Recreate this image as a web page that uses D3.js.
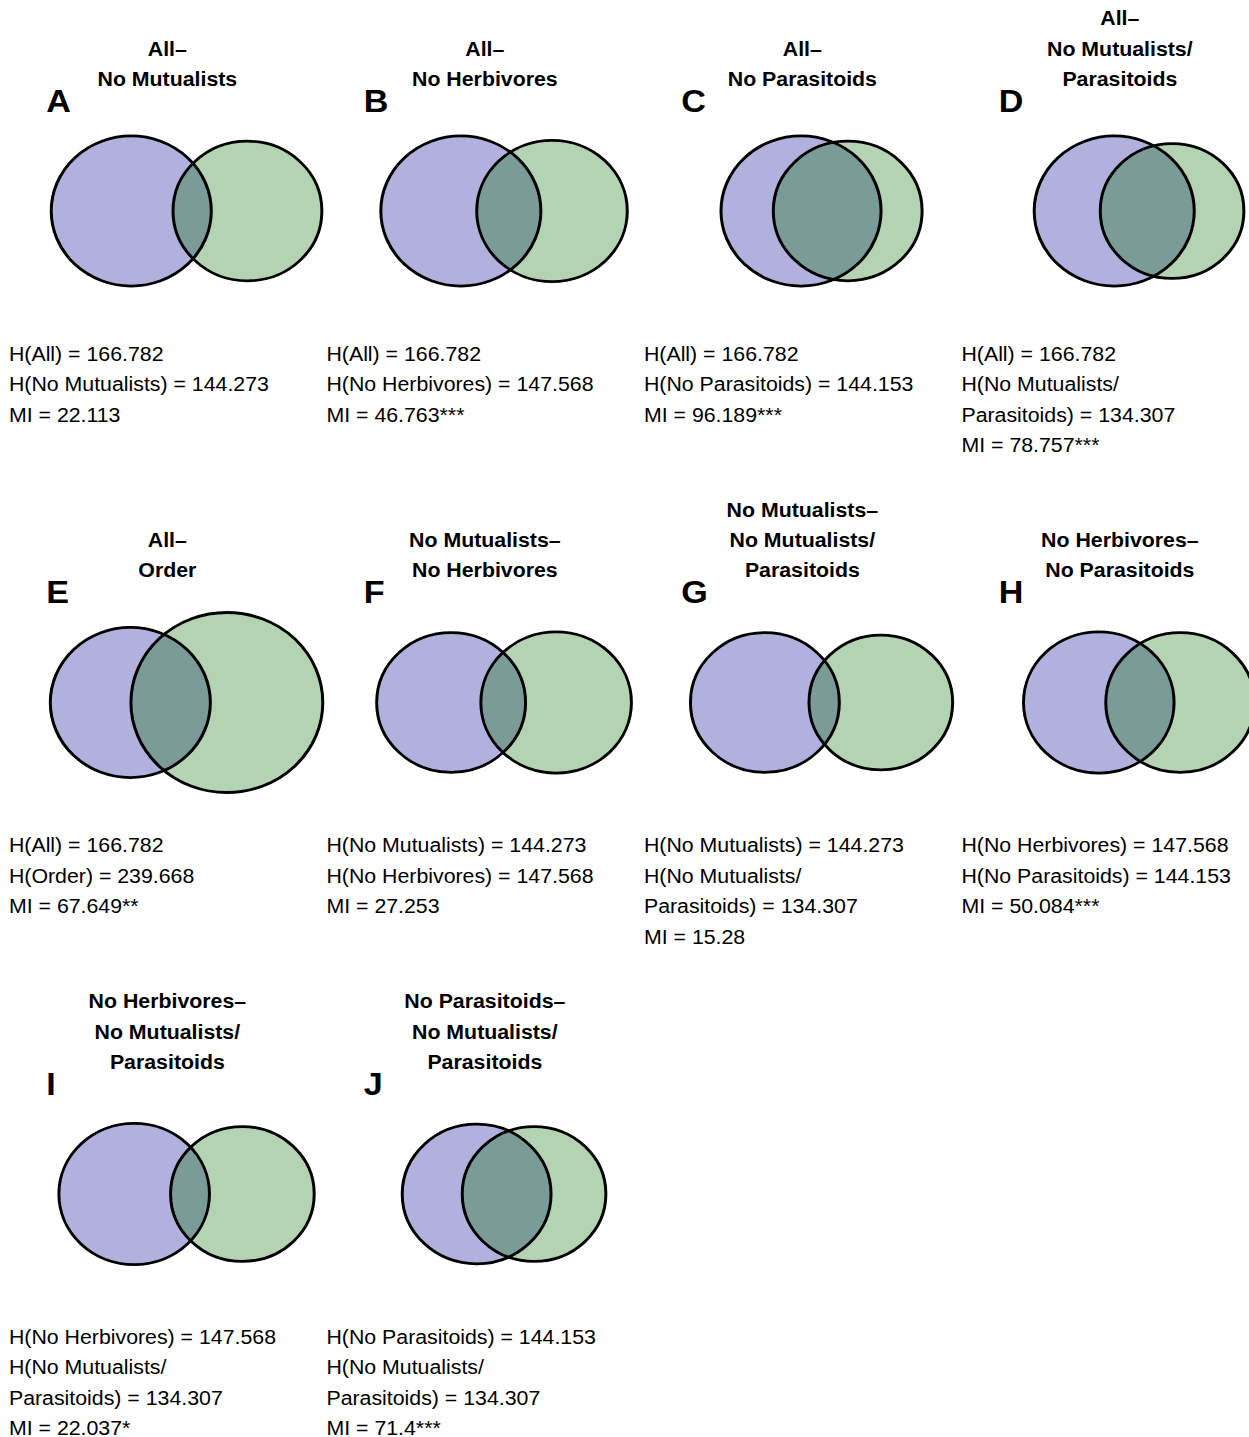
<!DOCTYPE html>
<html>
<head>
<meta charset="utf-8">
<script src="https://cdn.jsdelivr.net/npm/d3@7"></script>
<style>
  body { margin: 0; background: #fff; }
  text { font-family: "Liberation Sans", Arial, Helvetica, sans-serif; fill: #000; }
</style>
</head>
<body>
<div id="chart"></div>
<script>
// dades de cada panell
const letters = ["A", "B", "C", "D", "E", "F", "G", "H", "I", "J"];
const setA = ["All", "All", "All", "All", "All", "No Mutualists", "No Mutualists", "No Herbivores", "No Herbivores", "No Parasitoids"];
const setB = ["No Mutualists", "No Herbivores", "No Parasitoids", "No Mutualists/Parasitoids", "Order", "No Herbivores", "No Mutualists/Parasitoids", "No Parasitoids", "No Mutualists/Parasitoids", "No Mutualists/Parasitoids"];
const entropyA = [166.782, 166.782, 166.782, 166.782, 166.782, 144.273, 144.273, 147.568, 147.568, 144.153];
const entropyB = [144.273, 147.568, 144.153, 134.307, 239.668, 147.568, 134.307, 144.153, 134.307, 134.307];
const mutualInfo = [22.113, 46.763, 96.189, 78.757, 67.649, 27.253, 15.28, 50.084, 22.037, 71.4];
const signif = ["", "***", "***", "***", "**", "", "", "***", "*", "***"];

const width = 1249, height = 1437;
const stretch = 1.066; // la imatge original esta estirada en horitzontal

const svg = d3.select("#chart")
    .append("svg")
        .attr("width", width)
        .attr("height", height);

// graella 4 columnes x 3 files
const col = d3.scaleBand().domain([0, 1, 2, 3]).range([0, 1270]);
const row = d3.scaleBand().domain([0, 1, 2]).range([0, 1474.5]);

// radi proporcional a l'arrel de l'entropia (area ~ H)
const radius = d3.scaleSqrt().domain([0, 239.668]).range([0, 90]);
const pxPerUnit = 90 / Math.sqrt(239.668 / Math.PI);

// area de la lent entre dos cercles
function lensArea(r1, r2, d) {
    if (d >= r1 + r2) return 0;
    if (d <= Math.abs(r1 - r2)) return Math.PI * Math.min(r1, r2) ** 2;
    const a1 = r1 * r1 * Math.acos((d * d + r1 * r1 - r2 * r2) / (2 * d * r1));
    const a2 = r2 * r2 * Math.acos((d * d + r2 * r2 - r1 * r1) / (2 * d * r2));
    const k = 0.5 * Math.sqrt((-d + r1 + r2) * (d + r1 - r2) * (d - r1 + r2) * (d + r1 + r2));
    return a1 + a2 - k;
}

function solveDist(h1, h2, mi) {
    const r1 = Math.sqrt(h1 / Math.PI), r2 = Math.sqrt(h2 / Math.PI);
    let lo = Math.abs(r1 - r2) + 1e-9, hi = r1 + r2;
    for (let i = 0; i < 80; i++) {
        const mid = (lo + hi) / 2;
        if (lensArea(r1, r2, mid) > mi) lo = mid; else hi = mid;
    }
    return (lo + hi) / 2 * pxPerUnit;
}

function splitName(name) {
    const p = name.indexOf("/");
    return p < 0 ? [name] : [name.slice(0, p + 1), name.slice(p + 1)];
}

const purple = "#b1b1dd", green = "#b3d3b3", overlap = "#7b9b98";

letters.forEach(function(letter, i) {
    const g = svg.append("g")
        .attr("transform", `translate(${col(i % 4)}, ${row(Math.floor(i / 4))}) scale(${stretch}, 1)`);

    // títol
    const tA = splitName(setA[i]);
    tA[tA.length - 1] += "–";
    const titleLines = tA.concat(splitName(setB[i]));
    g.selectAll(".titol")
        .data(titleLines)
        .enter()
        .append("text")
            .attr("class", "titol")
            .attr("x", 157)
            .attr("y", (d, k) => 86 - (titleLines.length - 1 - k) * 30.3)
            .attr("text-anchor", "middle")
            .style("font-size", "20px")
            .style("font-weight", "bold")
            .text(d => d);

    g.append("text")
        .attr("x", 43.5)
        .attr("y", 112)
        .style("font-size", "32px")
        .style("font-weight", "bold")
        .text(letter);

    // cercles
    const r1 = radius(entropyA[i]), r2 = radius(entropyB[i]);
    const d = solveDist(entropyA[i], entropyB[i], mutualInfo[i]);
    const cx1 = 175 - (r1 + d + r2) / 2 + r1;
    const cx2 = cx1 + d;
    const cy = 211;

    g.append("clipPath")
        .attr("id", "clip-" + i)
        .append("circle")
            .attr("cx", cx2).attr("cy", cy).attr("r", r2);

    g.append("circle").attr("cx", cx1).attr("cy", cy).attr("r", r1).attr("fill", purple);
    g.append("circle").attr("cx", cx2).attr("cy", cy).attr("r", r2).attr("fill", green);
    g.append("circle").attr("cx", cx1).attr("cy", cy).attr("r", r1)
        .attr("fill", overlap)
        .attr("clip-path", `url(#clip-${i})`);
    [[cx1, r1], [cx2, r2]].forEach(function(c) {
        g.append("circle")
            .attr("cx", c[0]).attr("cy", cy).attr("r", c[1])
            .attr("fill", "none")
            .attr("stroke", "#000")
            .attr("stroke-width", 2.8);
    });

    // text de sota
    const lines = [];
    [[setA[i], entropyA[i]], [setB[i], entropyB[i]]].forEach(function(s) {
        const parts = splitName(s[0]);
        if (parts.length > 1) {
            lines.push("H(" + parts[0]);
            lines.push(parts[1] + ") = " + s[1]);
        } else {
            lines.push("H(" + s[0] + ") = " + s[1]);
        }
    });
    lines.push("MI = " + mutualInfo[i] + signif[i]);

    g.selectAll(".info")
        .data(lines)
        .enter()
        .append("text")
            .attr("class", "info")
            .attr("x", 8.4)
            .attr("y", (t, k) => 361 + k * 30.5)
            .style("font-size", "20px")
            .text(t => t);
});
</script>
</body>
</html>
